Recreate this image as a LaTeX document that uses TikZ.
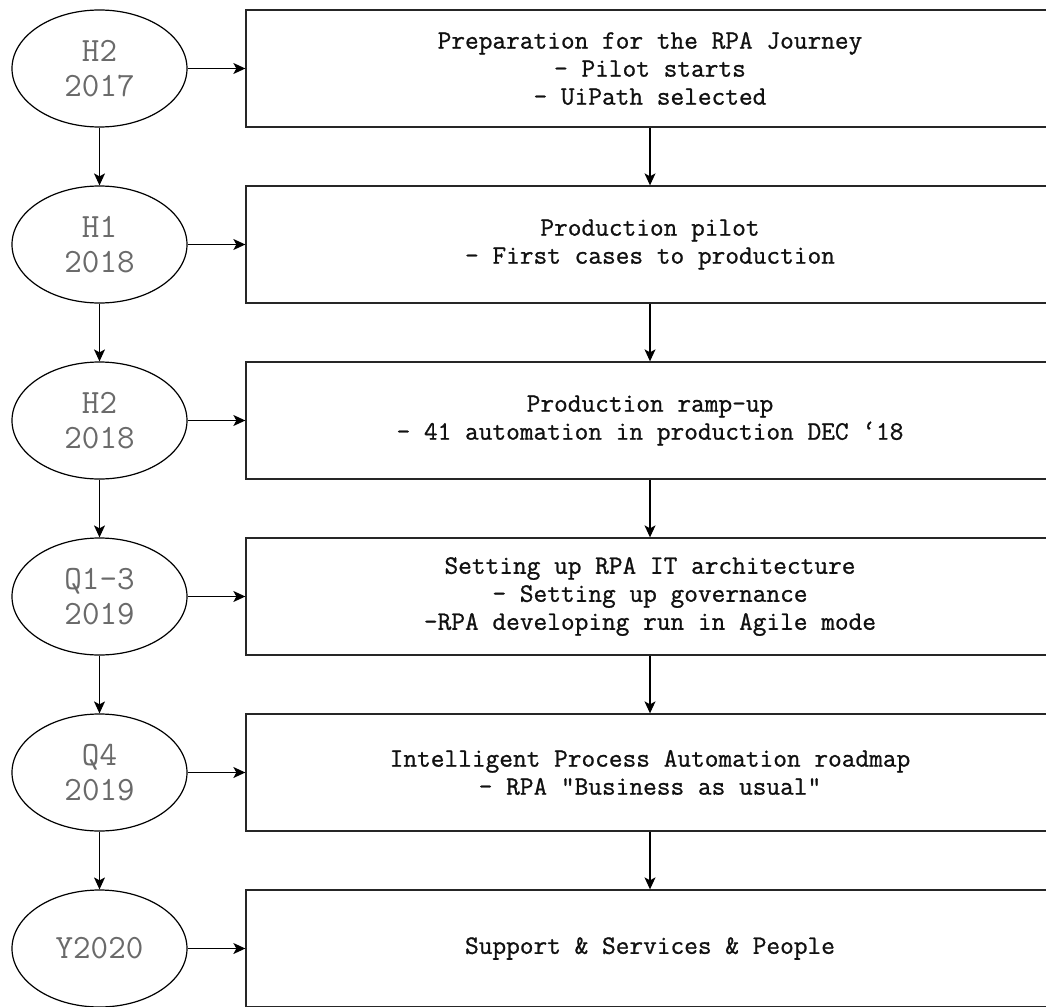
\documentclass[tikz,border=0pt]{standalone}
\usepackage{fontspec}
\newfontfamily\boxmono[FakeBold=0.9]{Latin Modern Mono}
\newfontfamily\ellmono{Latin Modern Mono}
\usetikzlibrary{shapes.geometric,arrows.meta}
\definecolor{ylabel}{HTML}{6A6A6A}
\definecolor{btext}{HTML}{111111}
\begin{document}
\begin{tikzpicture}[x=1pt,y=-1pt,
  period/.style={ellipse,draw=black,line width=1.2pt,minimum width=175pt,minimum height=117pt,inner sep=0pt,
    align=center,text=ylabel,font=\ellmono\fontsize{34}{34.5}\selectfont},
  stage/.style={rectangle,draw=black!85,line width=1.3pt,minimum width=808pt,minimum height=117pt,inner sep=0pt,
    align=center,text=btext,font=\boxmono\fontsize{26.6}{28}\selectfont},
  flow/.style={draw=black,line width=1.2pt,-{Stealth[length=12pt,width=11pt,inset=3pt]}}]
\useasboundingbox (0,0) rectangle (1046,1006);
\clip (0,0) rectangle (1046,1006);
\fill[white] (0,0) rectangle (1046,1006);
\node[period] (e1) at (99.5,68.5) {H2\\2017};
\node[period] (e2) at (99.5,244.5) {H1\\2018};
\node[period] (e3) at (99.5,420.5) {H2\\2018};
\node[period] (e4) at (99.5,596.5) {Q1-3\\2019};
\node[period] (e5) at (99.5,772.5) {Q4\\2019};
\node[period] (e6) at (99.5,948.5) {Y2020};
\node[stage] (b1) at (650,68.5) {Preparation for the RPA Journey\\- Pilot starts\\- UiPath selected};
\node[stage] (b2) at (650,244.5) {Production pilot\\- First cases to production};
\node[stage] (b3) at (650,420.5) {Production ramp-up\\- 41 automation in production DEC ‘18};
\node[stage] (b4) at (650,596.5) {Setting up RPA IT architecture\\- Setting up governance\\-RPA developing run in Agile mode};
\node[stage] (b5) at (650,772.5) {Intelligent Process Automation roadmap\\- RPA “Business as usual”};
\node[stage] (b6) at (650,948.5) {Support \& Services \& People};
\foreach \i in {1,...,6} {\draw[flow] (e\i) -- (b\i);}
\foreach \i/\j in {1/2,2/3,3/4,4/5,5/6} {
  \draw[flow] (e\i) -- (e\j);
  \draw[flow] (b\i) -- (b\j);
}
\end{tikzpicture}
\end{document}
